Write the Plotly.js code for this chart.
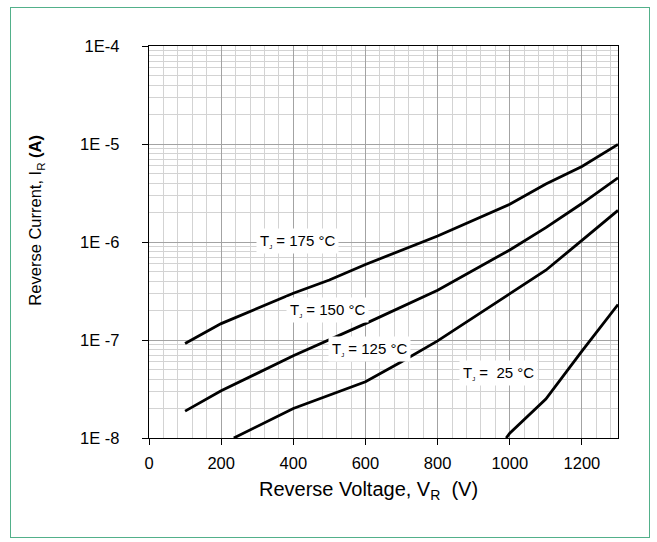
<!DOCTYPE html>
<html>
<head>
<meta charset="utf-8">
<script src="https://cdn.plot.ly/plotly-3.0.1.min.js"></script>
<style>
  html, body { margin: 0; padding: 0; background: #ffffff; }
  #wrap { position: relative; width: 657px; height: 542px; }
  #chart { position: absolute; left: 0; top: 0; width: 657px; height: 542px; }
  #frame { position: absolute; left: 10px; top: 7px; width: 638px; height: 529px;
           border: 1.5px solid #52b08a; pointer-events: none; }
</style>
</head>
<body>
<div id="wrap">
  <div id="chart"></div>
  <div id="frame"></div>
</div>
<script>
// Reverse voltage (V) and reverse current (A) for each junction temperature
const v175 = [100, 200, 400, 500, 600, 800, 1000, 1100, 1200, 1300];
const i175 = [9.2e-8, 1.47e-7, 3.0e-7, 4.1e-7, 5.9e-7, 1.15e-6, 2.43e-6, 3.9e-6, 5.9e-6, 9.9e-6];

const v150 = [100, 200, 400, 600, 800, 1000, 1100, 1200, 1300];
const i150 = [1.88e-8, 3.03e-8, 6.9e-8, 1.47e-7, 3.22e-7, 8.3e-7, 1.4e-6, 2.47e-6, 4.52e-6];

const v125 = [235, 400, 600, 700, 800, 900, 1000, 1100, 1200, 1300];
const i125 = [1.0e-8, 2.0e-8, 3.75e-8, 6.0e-8, 9.8e-8, 1.7e-7, 2.95e-7, 5.15e-7, 1.04e-6, 2.1e-6];

const v25 = [990, 1000, 1100, 1200, 1300];
const i25 = [1.0e-8, 1.12e-8, 2.5e-8, 7.7e-8, 2.3e-7];

const seriesNames = ['TJ = 175 °C', 'TJ = 150 °C', 'TJ = 125 °C', 'TJ = 25 °C'];
const labelTemps = ['175 °C', '150 °C', '125 °C', ' 25 °C'];

const yTickVals = [1e-8, 1e-7, 1e-6, 1e-5, 1e-4];
const yTickText = ['1E -8', '1E -7', '1E -6', '1E -5', '1E-4'];
const xTickVals = [0, 200, 400, 600, 800, 1000, 1200];
const xTickText = ['0', '200', '400', '600', '800', '1000', '1200'];

const xTitle = 'Reverse Voltage, V<sub>R</sub> &nbsp;(V)';
const yTitle = 'Reverse Current, I<sub>R</sub> <b>(A)</b>';

// minor log grid positions (2..9 within each decade)
const yMinor = [];
for (let d = -8; d < -4; d++) {
  for (let k = 2; k <= 9; k++) yMinor.push(k * Math.pow(10, d));
}

const xs = [v175, v150, v125, v25];
const ys = [i175, i150, i125, i25];
const traces = xs.map((x, n) => ({
  type: 'scatter', mode: 'lines', x: x, y: ys[n], name: seriesNames[n],
  line: { color: '#000000', width: 2.8 }, showlegend: false, hoverinfo: 'skip'
}));

const FONT = 'Liberation Sans, Arial, sans-serif';
function tjLabel(t) {
  return 'T<sub><span style="font-size:6px">J</span></sub> = ' + t;
}
const annPos = [
  { x: 412, y: -5.99 },
  { x: 496, y: -6.69 },
  { x: 611, y: -7.09 },
  { x: 969, y: -7.34 }
];
const annotations = labelTemps.map((t, n) => ({
  x: annPos[n].x, y: annPos[n].y, xref: 'x', yref: 'y',
  text: tjLabel(t), showarrow: false,
  font: { family: FONT, size: 15, color: '#000000' },
  bgcolor: '#ffffff', borderpad: 3
}));
// axis titles
annotations.push({
  x: 0.467, y: -0.135, xref: 'paper', yref: 'paper', xanchor: 'center', yanchor: 'middle',
  text: xTitle, showarrow: false, font: { family: FONT, size: 20, color: '#000000' }
});
annotations.push({
  x: -0.241, y: 0.557, xref: 'paper', yref: 'paper', xanchor: 'center', yanchor: 'middle',
  text: yTitle, textangle: -90, showarrow: false, font: { family: FONT, size: 16.5, color: '#000000' }
});

const layout = {
  width: 657, height: 542,
  paper_bgcolor: '#ffffff', plot_bgcolor: '#ffffff',
  margin: { l: 149, r: 39, t: 46, b: 104, pad: 0 },
  font: { family: FONT, color: '#000000' },
  xaxis: {
    range: [0, 1300], autorange: false,
    tickmode: 'array', tickvals: xTickVals, ticktext: xTickText,
    ticks: 'outside', ticklen: 6, tickcolor: '#000000', tickwidth: 1,
    tickfont: { family: FONT, size: 16.5, color: '#000000' },
    ticklabelstandoff: 4,
    showline: true, linecolor: '#000000', linewidth: 1.3, mirror: true,
    showgrid: true, gridcolor: '#a3a3a3', gridwidth: 1,
    minor: { dtick: 40, tick0: 0, showgrid: true, gridcolor: '#d3d3d3', gridwidth: 1, ticks: '' },
    zeroline: false
  },
  yaxis: {
    type: 'log', range: [-8, -4], autorange: false,
    tickmode: 'array', tickvals: yTickVals, ticktext: yTickText,
    ticks: 'outside', ticklen: 6, tickcolor: '#000000', tickwidth: 1,
    tickfont: { family: FONT, size: 16.5, color: '#000000' },
    ticklabelstandoff: 19,
    showline: true, linecolor: '#000000', linewidth: 1.3, mirror: true,
    showgrid: true, gridcolor: '#a3a3a3', gridwidth: 1,
    minor: { tickmode: 'array', tickvals: yMinor, showgrid: true, gridcolor: '#d3d3d3', gridwidth: 1, ticks: '' },
    zeroline: false
  },
  annotations: annotations,
  showlegend: false
};

Plotly.newPlot('chart', traces, layout, { staticPlot: true, displayModeBar: false });
</script>
</body>
</html>
